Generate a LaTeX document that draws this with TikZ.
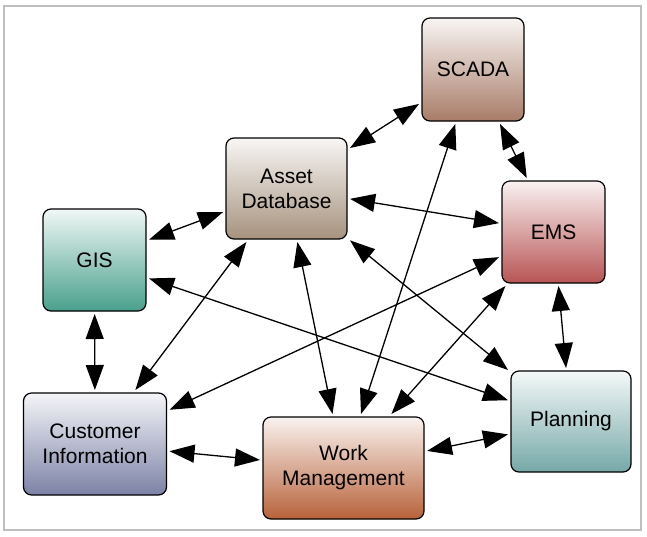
\documentclass[tikz,border=0pt]{standalone}
\usepackage{fontspec}
\setmainfont{Liberation Sans}
\usepackage{tikz}
\usetikzlibrary{arrows.meta}

\definecolor{scadaC}{RGB}{168,124,104}
\definecolor{assetC}{RGB}{166,146,126}
\definecolor{gisC}{RGB}{72,160,140}
\definecolor{emsC}{RGB}{184,84,84}
\definecolor{custC}{RGB}{124,130,166}
\definecolor{workC}{RGB}{184,98,58}
\definecolor{planC}{RGB}{118,168,168}
\definecolor{frameC}{RGB}{190,190,190}

\begin{document}
\begin{tikzpicture}
  [x=1pt,y=-1pt,
   box/.style={rectangle, rounded corners=8pt, draw=black, line width=1.2pt,
     inner sep=0pt, outer sep=3pt, align=center,
     font=\fontsize{21}{25}\selectfont, top color=#1!8!white, bottom color=#1},
   link/.style={line width=1.3pt, {Triangle[length=25pt,width=18pt]}-{Triangle[length=25pt,width=18pt]}}]
  \useasboundingbox (0,0) rectangle (647,536);
  \draw[frameC, line width=2pt] (4,6) rectangle (641,530);

  \node[box=scadaC, minimum width=102pt, minimum height=103pt] (scada) at (473,69.5) {SCADA};
  \node[box=assetC, minimum width=121pt, minimum height=101pt] (asset) at (286.5,188.5) {Asset\\Database};
  \node[box=gisC,   minimum width=103pt, minimum height=102pt] (gis)   at (94.5,260) {GIS};
  \node[box=emsC,   minimum width=103pt, minimum height=102pt] (ems)   at (553.5,232) {EMS};
  \node[box=custC,  minimum width=143pt, minimum height=102pt] (cust)  at (95,444) {Customer\\Information};
  \node[box=workC,  minimum width=161pt, minimum height=102pt] (work)  at (343.5,468) {Work\\Management};
  \node[box=planC,  minimum width=120pt, minimum height=101pt] (plan)  at (571,421.5) {Planning};

  \foreach \from/\to in {gis/asset,gis/cust,gis/plan,asset/scada,asset/ems,asset/cust,
      asset/work,asset/plan,scada/ems,scada/work,ems/cust,ems/work,ems/plan,cust/work,work/plan}
    \draw[link] (\from) -- (\to);

\end{tikzpicture}
\end{document}
